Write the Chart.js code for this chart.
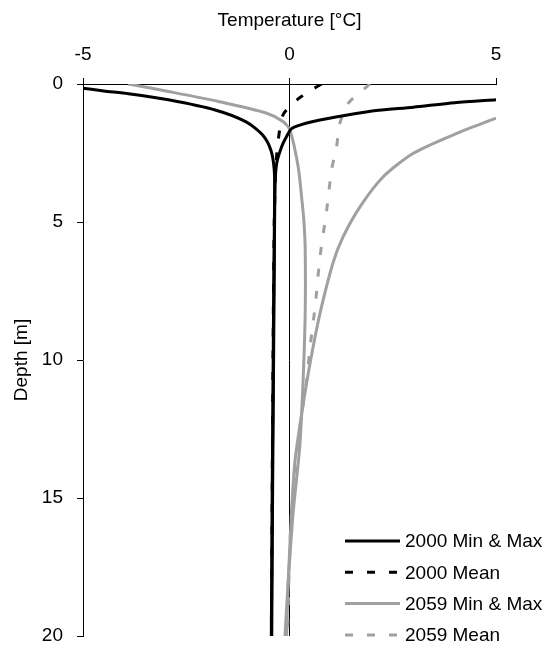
<!DOCTYPE html>
<html>
<head>
<meta charset="utf-8">
<script src="https://cdn.jsdelivr.net/npm/chart.js@4.4.0/dist/chart.umd.min.js"></script>
<style>
  body { margin: 0; background: #fff; }
  #wrap { width: 550px; height: 650px; }
</style>
</head>
<body>
<div id="wrap"><canvas id="profile" width="550" height="650"></canvas></div>
<script>
// Ground temperature profiles, temperature [°C] against depth [m]
const min2000Temp  = [-5.0, -4.5, -3.9, -2.9, -1.8, -1.05, -0.65, -0.45, -0.37, -0.36, -0.38, -0.40, -0.42, -0.44];
const min2000Depth = [0.15, 0.25, 0.35, 0.58, 0.94, 1.37, 1.85, 2.4, 3.1, 4.0, 7, 11, 15, 20];

const max2000Temp  = [5.0, 4.0, 3.0, 2.0, 1.3, 0.6, 0.25, 0.05, -0.07, -0.19, -0.31, -0.35, -0.37, -0.39, -0.41, -0.43];
const max2000Depth = [0.57, 0.68, 0.84, 0.98, 1.15, 1.35, 1.49, 1.62, 1.9, 2.27, 2.87, 3.7, 7, 11, 15, 20];

const mean2000Temp  = [0.78, 0.55, 0.2, -0.15, -0.27, -0.33, -0.37, -0.40, -0.42, -0.44];
const mean2000Depth = [0, 0.2, 0.55, 1.1, 2.0, 3.0, 5, 10, 15, 20];

const min2059Temp  = [-3.9, -2.9, -1.7, -0.55, -0.15, 0.01, 0.21, 0.30, 0.35, 0.38, 0.38, 0.33, 0.25, 0.09, -0.03, -0.11];
const min2059Depth = [0, 0.28, 0.64, 1.06, 1.37, 1.67, 3.0, 4.2, 5.0, 6.0, 8.3, 10.7, 13.1, 15.5, 18, 20];

const max2059Temp  = [5.0, 4.05, 3.0, 2.27, 1.71, 1.3, 1.06, 0.74, 0.5, 0.3, 0.13, 0.05, -0.03, -0.07];
const max2059Depth = [1.24, 1.79, 2.51, 3.36, 4.44, 5.53, 6.45, 8.3, 10.1, 11.9, 13.7, 15.5, 18, 20];

const mean2059Temp  = [1.95, 1.42, 1.22, 1.14, 1.02, 0.9, 0.74, 0.62, 0.5, 0.42, 0.3, 0.15, 0.03, -0.05];
const mean2059Depth = [0, 0.7, 1.42, 2.27, 3.1, 4.57, 6.25, 8.07, 9.5, 10.7, 11.9, 13.7, 16, 20];

const tempTicks = [-5, 0, 5];
const depthTicks = [0, 5, 10, 15, 20];
const legendNames = ['2000 Min & Max', '2000 Mean', '2059 Min & Max', '2059 Mean'];

const FONT = '"Liberation Sans", Arial, sans-serif';
const BLACK = '#000000';
const GREY = '#a0a0a0';
const DASH = [8, 14];

function points(temps, depths) {
    return temps.map((t, i) => ({ x: t, y: depths[i] }));
}

function series(temps, depths, color, dashed, legend) {
    return {
        data: points(temps, depths),
        borderColor: color,
        borderWidth: 3,
        borderDash: dashed ? DASH : [],
        borderJoinStyle: 'round',
        showLine: true,
        pointRadius: 0,
        tension: 0.25,
        fill: false,
        legendIndex: legend
    };
}

// Legend inside the lower right corner of the plot
const depthLegend = {
    id: 'depthLegend',
    afterDraw(chart) {
        const ctx = chart.ctx;
        const area = chart.chartArea;
        const x0 = area.right - 151;
        const y0 = area.bottom - 95;
        const step = 31.3;
        ctx.save();
        ctx.font = '19px ' + FONT;
        ctx.textBaseline = 'middle';
        ctx.fillStyle = BLACK;
        chart.data.datasets.forEach(ds => {
            if (ds.legendIndex === undefined) return;
            const y = y0 + ds.legendIndex * step;
            ctx.strokeStyle = ds.borderColor;
            ctx.lineWidth = ds.borderWidth;
            ctx.setLineDash(ds.borderDash);
            ctx.beginPath();
            ctx.moveTo(x0, y);
            ctx.lineTo(x0 + 55, y);
            ctx.stroke();
            ctx.setLineDash([]);
            ctx.fillText(legendNames[ds.legendIndex], x0 + 60, y + 1);
        });
        ctx.restore();
    }
};

new Chart(document.getElementById('profile'), {
    type: 'scatter',
    data: {
        datasets: [
            series(min2000Temp, min2000Depth, BLACK, false, 0),
            series(max2000Temp, max2000Depth, BLACK, false),
            series(mean2000Temp, mean2000Depth, BLACK, true, 1),
            series(min2059Temp, min2059Depth, GREY, false, 2),
            series(max2059Temp, max2059Depth, GREY, false),
            series(mean2059Temp, mean2059Depth, GREY, true, 3)
        ]
    },
    options: {
        responsive: false,
        animation: false,
        layout: { padding: { top: 0, left: 0, right: 54, bottom: 14 } },
        plugins: {
            legend: { display: false },
            tooltip: { enabled: false }
        },
        scales: {
            x: {
                type: 'linear',
                position: 'top',
                min: -5,
                max: 5,
                afterBuildTicks: scale => { scale.ticks = tempTicks.map(v => ({ value: v })); },
                afterFit: scale => {
                    scale.height = 84;
                    scale.paddingLeft = 0;
                    scale.paddingRight = 0;
                },
                ticks: { color: BLACK, font: { family: FONT, size: 19 }, padding: 12, maxRotation: 0 },
                grid: {
                    color: c => (c.tick && c.tick.value === 0 ? BLACK : 'rgba(0,0,0,0)'),
                    lineWidth: 1,
                    tickColor: BLACK,
                    tickLength: 6
                },
                border: { color: BLACK, width: 1 },
                title: {
                    display: true,
                    text: 'Temperature [°C]',
                    color: BLACK,
                    font: { family: FONT, size: 19 },
                    padding: { top: 9, bottom: 0 }
                }
            },
            y: {
                type: 'linear',
                reverse: true,
                min: 0,
                max: 20,
                afterBuildTicks: scale => { scale.ticks = depthTicks.map(v => ({ value: v })); },
                afterFit: scale => {
                    scale.width = 83;
                    scale.paddingTop = 0;
                    scale.paddingBottom = 0;
                },
                ticks: { color: BLACK, font: { family: FONT, size: 19 }, padding: 14 },
                grid: {
                    drawOnChartArea: false,
                    tickColor: BLACK,
                    tickLength: 6
                },
                border: { color: BLACK, width: 1 },
                title: {
                    display: true,
                    text: 'Depth [m]',
                    color: BLACK,
                    font: { family: FONT, size: 19 },
                    padding: { top: 10, bottom: 0 }
                }
            }
        }
    },
    plugins: [depthLegend]
});
</script>
</body>
</html>
